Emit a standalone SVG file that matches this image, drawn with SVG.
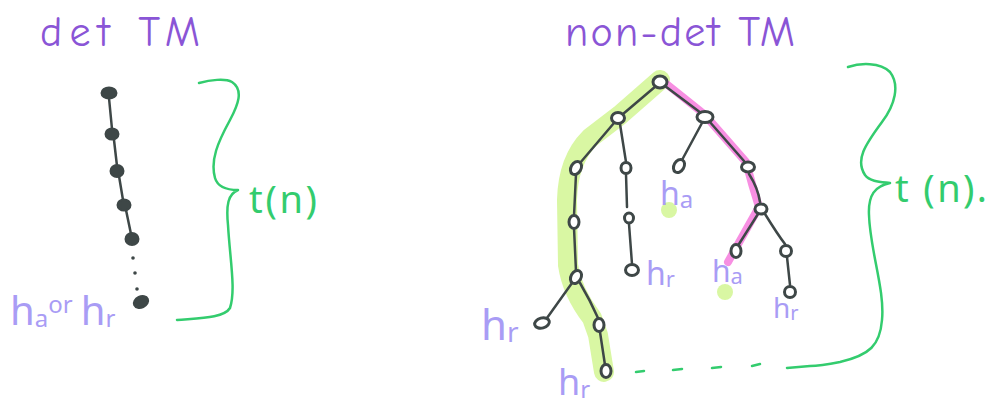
<svg xmlns="http://www.w3.org/2000/svg" width="989" height="410" viewBox="0 0 989 410">
<style>
.title{font-family:"Comic Neue","Noto Sans","Liberation Sans",sans-serif;fill:#8a55d6;font-size:42px}
.lab{font-family:"Noto Sans","Liberation Sans",sans-serif;fill:#a99cf5}
.tn{font-family:"Noto Sans","Liberation Sans",sans-serif;fill:#33cc6e}
.brace{fill:none;stroke:#33cc6e;stroke-width:2.5;stroke-linecap:round;stroke-linejoin:round}
.edge{fill:none;stroke:#3e4747;stroke-width:2.5;stroke-linecap:round}
.n{fill:#fff;stroke:#3e4747;stroke-width:3}
.nf{fill:#3e4747;stroke:#3e4747;stroke-width:2}
.hlg{fill:none;stroke:#d9f7a3;stroke-width:20;stroke-linecap:round;stroke-linejoin:round}
.hlp{fill:none;stroke:#f78fe2;stroke-width:8;stroke-linecap:round;stroke-linejoin:round}
</style>
<rect width="989" height="410" fill="#fff"/>

<text class="title" x="40" y="46" textLength="160">det  TM</text>
<text class="title" x="565" y="46" textLength="230">non-det TM</text>

<g id="connectors">
<path class="edge" d="M109,98 L112,129 M114,140 L117,166 M119,176 L123,200 M126,210 L131,234"/>
<path class="hlg" d="M660,80 L620,115 L590,138 Q568,160 567,200 L568,265 Q572,292 592,318 L598,335 L604,372"/>
<path class="hlp" d="M664,82 L704,114 L746,162 Q752,185 759,207 L728,262"/>
<path class="edge" d="M656,86 L623,114 M665,86 L701,113 M614,123 L580,163 M620,124 L626,162 M626,174 L627,207 M629,224 L632,264 M576,174 L574,216 M574,228 L576,271 M572,283 L547,318 M580,283 Q590,300 598,318 M600,332 L605,365 M702,123 L682,160 M709,121 L744,161 M749,174 Q758,188 760,202 M758,214 L739,244 M765,214 Q778,235 785,244 M787,257 L790,285"/>
<path class="brace" d="M199,83 C210,80 225,78 232,82 C244,90 238,105 230,120 C218,142 210,160 215,178 C218,188 228,190 238,190 C228,194 226,205 228,225 C230,260 236,290 230,308 C224,318 200,318 177,320"/>
<path class="brace" d="M848,67 C860,63 880,62 890,72 C900,85 895,105 882,122 C865,145 855,160 865,175 C870,182 882,182 890,183 C875,186 868,195 869,215 C870,250 885,290 882,320 C880,345 870,355 840,362 C825,365 815,366 810,366 L787,368"/>
<path class="brace" d="M636,372 L644,371 M673,370 L682,369 M712,368 L721,367 M752,366 L760,364"/>
</g>

<g id="left-chain">
<ellipse class="nf" cx="109" cy="93" rx="7.5" ry="5.5"/>
<ellipse class="nf" cx="112" cy="134" rx="6.5" ry="5.5"/>
<ellipse class="nf" cx="117" cy="171" rx="6.5" ry="6"/>
<ellipse class="nf" cx="124" cy="205" rx="6.5" ry="5.5"/>
<ellipse class="nf" cx="132" cy="239" rx="6.5" ry="6"/>
<circle cx="133" cy="258" r="1.8" fill="#3e4747"/>
<circle cx="135" cy="273" r="1.8" fill="#3e4747"/>
<circle cx="137" cy="289" r="1.8" fill="#3e4747"/>
<ellipse class="nf" cx="141" cy="302" rx="7.5" ry="5.5" transform="rotate(-25 141 302)"/>
</g>

<g id="dots">
<circle cx="669" cy="210" r="8" fill="#d9f7a3"/>
<circle cx="725" cy="292" r="8" fill="#d9f7a3"/>
</g>

<g id="tree">
<ellipse class="n" cx="660" cy="82" rx="7" ry="6"/>
<ellipse class="n" cx="618" cy="118" rx="6.5" ry="5.5"/>
<ellipse class="n" cx="705" cy="117" rx="8" ry="5.5"/>
<ellipse class="n" cx="576" cy="168" rx="5" ry="7" transform="rotate(30 576 168)"/>
<ellipse class="n" cx="626" cy="168" rx="5" ry="5.5"/>
<ellipse class="n" cx="629" cy="218" rx="4.5" ry="5"/>
<ellipse class="n" cx="632" cy="270" rx="6.5" ry="5.5"/>
<ellipse class="n" cx="574" cy="222" rx="5" ry="6.5"/>
<ellipse class="n" cx="576" cy="277" rx="5" ry="7" transform="rotate(30 576 277)"/>
<ellipse class="n" cx="542" cy="323" rx="7.5" ry="5" transform="rotate(-15 542 323)"/>
<ellipse class="n" cx="599" cy="325" rx="5" ry="6.5"/>
<ellipse class="n" cx="606" cy="371" rx="5" ry="6.5"/>
<ellipse class="n" cx="679" cy="166" rx="5" ry="7" transform="rotate(30 679 166)"/>
<ellipse class="n" cx="748" cy="167" rx="6.5" ry="5"/>
<ellipse class="n" cx="761" cy="209" rx="6" ry="5"/>
<ellipse class="n" cx="736" cy="251" rx="5" ry="6.5"/>
<ellipse class="n" cx="786" cy="251" rx="5.5" ry="5.5"/>
<ellipse class="n" cx="790" cy="292" rx="5.5" ry="5.5"/>
</g>

<g id="labels">
<text class="lab" x="10" y="325" font-size="40">h<tspan font-size="24" dy="2">a</tspan><tspan font-size="24" dy="-14">or</tspan><tspan font-size="40" dx="8" dy="12">h</tspan><tspan font-size="24" dy="2">r</tspan></text>
<text class="lab" x="660" y="205" font-size="32">h<tspan font-size="24" dy="3">a</tspan></text>
<text class="lab" x="712" y="282" font-size="30">h<tspan font-size="22" dy="2">a</tspan></text>
<text class="lab" x="646" y="285" font-size="32">h<tspan font-size="22" dy="2">r</tspan></text>
<text class="lab" x="773" y="318" font-size="28">h<tspan font-size="20" dy="2">r</tspan></text>
<text class="lab" x="481" y="340" font-size="42">h<tspan font-size="28" dy="2">r</tspan></text>
<text class="lab" x="558" y="395" font-size="36">h<tspan font-size="24" dy="3">r</tspan></text>
<text class="tn" x="249" y="213" font-size="38" textLength="68">t(n)</text>
<text class="tn" x="895" y="202" font-size="38" textLength="92">t (n).</text>
</g>
</svg>
